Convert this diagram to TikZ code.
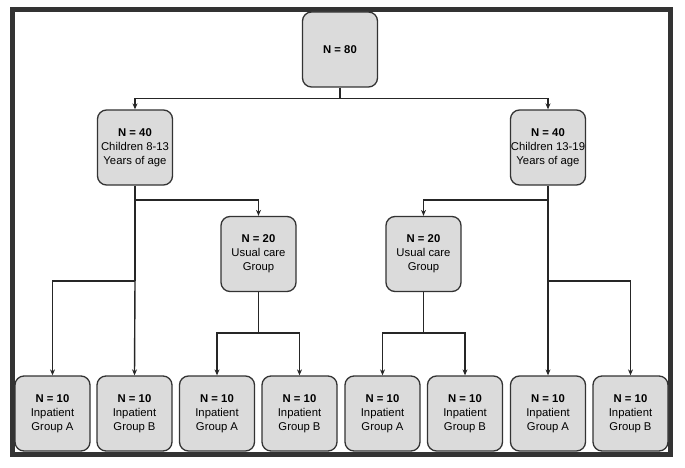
\documentclass[tikz,border=0pt]{standalone}
\usepackage{fontspec}
\setmainfont{Liberation Sans}
\usepackage{tikz}
\usetikzlibrary{arrows.meta,positioning}

\begin{document}
\begin{tikzpicture}[x=1pt, y=-1pt,
    every node/.style={font=\fontsize{11.3}{14}\selectfont},
    grpbox/.style={draw=black!80, line width=1.3pt, fill=black!14, rounded corners=9pt,
      minimum width=75pt, minimum height=75pt, inner sep=0pt, align=center},
    link/.style={draw=black!85, line width=1.4pt},
    arr/.style={link, -{Stealth[length=6pt,width=5pt]}}]
  \useasboundingbox (0,0) rectangle (685,468);
  % outer frame
  \draw[line width=5pt, black!80] (12.5,9.5) rectangle (670.5,454);
  % whole sample
  \node[grpbox] (all) at (340,49.5) {\textbf{N = 80}};
  % age groups
  \node[grpbox] (young) at (135,147.5) {\textbf{N = 40}\\Children 8-13\\Years of age};
  \node[grpbox] (old) at (548,147.5) {\textbf{N = 40}\\Children 13-19\\Years of age};
  % usual care
  \node[grpbox] (ucyoung) at (258.5,254) {\textbf{N = 20}\\Usual care\\Group};
  \node[grpbox] (ucold) at (423.5,254) {\textbf{N = 20}\\Usual care\\Group};
  % inpatient groups
  \node[grpbox] (ipa1) at (52.5,413.5) {\textbf{N = 10}\\Inpatient\\Group A};
  \node[grpbox] (ipb1) at (134.5,413.5) {\textbf{N = 10}\\Inpatient\\Group B};
  \node[grpbox] (ipa2) at (217,413.5) {\textbf{N = 10}\\Inpatient\\Group A};
  \node[grpbox] (ipb2) at (299.5,413.5) {\textbf{N = 10}\\Inpatient\\Group B};
  \node[grpbox] (ipa3) at (382.5,413.5) {\textbf{N = 10}\\Inpatient\\Group A};
  \node[grpbox] (ipb3) at (465,413.5) {\textbf{N = 10}\\Inpatient\\Group B};
  \node[grpbox] (ipa4) at (548,413.5) {\textbf{N = 10}\\Inpatient\\Group A};
  \node[grpbox] (ipb4) at (630.5,413.5) {\textbf{N = 10}\\Inpatient\\Group B};
  % branch points
  \coordinate (split0) at (340,98.5);
  \coordinate (split1) at (135,200);
  \coordinate (split2) at (548,200);
  \coordinate (split3) at (135,281);
  \coordinate (split4) at (548,281);
  \coordinate (split5) at (258.5,333);
  \coordinate (split6) at (423.5,333);
  % connectors
  \draw[link] (all) -- (split0);
  \draw[arr] (split0) -| (young.north);
  \draw[arr] (split0) -| (old.north);
  \draw[link] (young) -- (split3);
  \draw[arr] (split1) -| (ucyoung.north);
  \draw[arr] (split3) -| (ipa1.north);
  \draw[arr] (split3) -- (ipb1.north);
  \draw[link] (old) -- (split4);
  \draw[arr] (split2) -| (ucold.north);
  \draw[arr] (split4) -| (ipb4.north);
  \draw[arr] (split4) -- (ipa4.north);
  \draw[link] (ucyoung) -- (split5);
  \draw[arr] (split5) -| (ipa2.north);
  \draw[arr] (split5) -| (ipb2.north);
  \draw[link] (ucold) -- (split6);
  \draw[arr] (split6) -| (ipa3.north);
  \draw[arr] (split6) -| (ipb3.north);
\end{tikzpicture}
\end{document}
